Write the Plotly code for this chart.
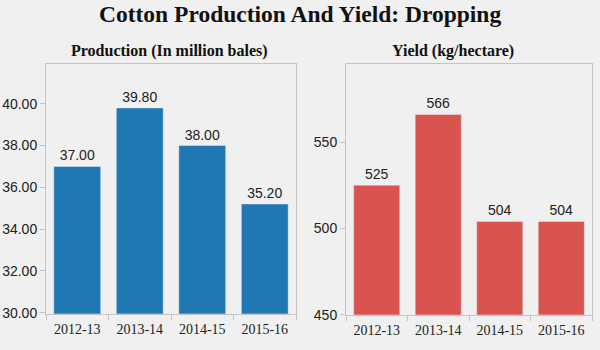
import plotly.graph_objects as go

years = ["2012-13", "2013-14", "2014-15", "2015-16"]
production = [37.00, 39.80, 38.00, 35.20]
yield_kg = [525, 566, 504, 504]
prod_ticks = [30, 32, 34, 36, 38, 40]
yield_ticks = [450, 500, 550]

W, H = 600, 350
BG = "#f0f0f0"
LINE = "#c4c4c4"
BLUE = "#1f77b4"
RED = "#d9534f"
SANS = "Liberation Sans"
SERIF = "Liberation Serif"


def px_x(a, b):
    return [a / W, b / W]


def px_y(top, bottom):
    return [1 - bottom / H, 1 - top / H]


fig = go.Figure()
fig.add_trace(go.Bar(
    x=years, y=production, marker_color=BLUE, xaxis="x", yaxis="y",
    texttemplate="%{y:.2f}", textposition="outside", cliponaxis=False,
    textfont=dict(family=SANS, size=14, color="#222222"), showlegend=False,
))
fig.add_trace(go.Bar(
    x=years, y=yield_kg, marker_color=RED, xaxis="x2", yaxis="y2",
    texttemplate="%{y:.0f}", textposition="outside", cliponaxis=False,
    textfont=dict(family=SANS, size=14, color="#222222"), showlegend=False,
))

xcommon = dict(showline=True, linecolor=LINE, linewidth=1, mirror=True,
               ticks="outside", tickson="boundaries", ticklen=5, tickcolor=LINE,
               ticklabelstandoff=3,
               tickfont=dict(family=SERIF, size=14, color="#222222"),
               showgrid=False, zeroline=False, fixedrange=True)
ycommon = dict(showline=True, linecolor=LINE, linewidth=1, mirror=True,
               ticks="outside", ticklen=5, tickcolor=LINE,
               tickfont=dict(family=SANS, size=14, color="#222222"),
               showgrid=False, zeroline=False, fixedrange=True)

fig.update_layout(
    width=W, height=H, margin=dict(l=0, r=0, t=0, b=0),
    paper_bgcolor=BG, plot_bgcolor=BG, bargap=0.25,
    xaxis=dict(domain=px_x(46, 296), anchor="y", **xcommon),
    yaxis=dict(domain=px_y(66, 321), anchor="x", range=[29.95, 41.88],
               tickvals=prod_ticks, ticktext=[f"{v:.2f}" for v in prod_ticks], **ycommon),
    xaxis2=dict(domain=px_x(346, 592), anchor="y2", **xcommon),
    yaxis2=dict(domain=px_y(66, 322), anchor="x2", range=[450, 594.9],
                tickvals=yield_ticks, ticktext=[str(v) for v in yield_ticks], **ycommon),
    annotations=[
        dict(text="<b>Cotton Production And Yield: Dropping</b>", x=0.5, y=1 - 14 / H,
             xref="paper", yref="paper", xanchor="center", yanchor="middle", showarrow=False,
             font=dict(family=SERIF, size=23.5, color="#111111")),
        dict(text="<b>Production (In million bales)</b>", x=169.5 / W, y=1 - 52 / H,
             xref="paper", yref="paper", xanchor="center", yanchor="middle", showarrow=False,
             font=dict(family=SERIF, size=16, color="#111111")),
        dict(text="<b>Yield (kg/hectare)</b>", x=453 / W, y=1 - 52 / H,
             xref="paper", yref="paper", xanchor="center", yanchor="middle", showarrow=False,
             font=dict(family=SERIF, size=16, color="#111111")),
    ],
)

fig.write_html("out.html")
